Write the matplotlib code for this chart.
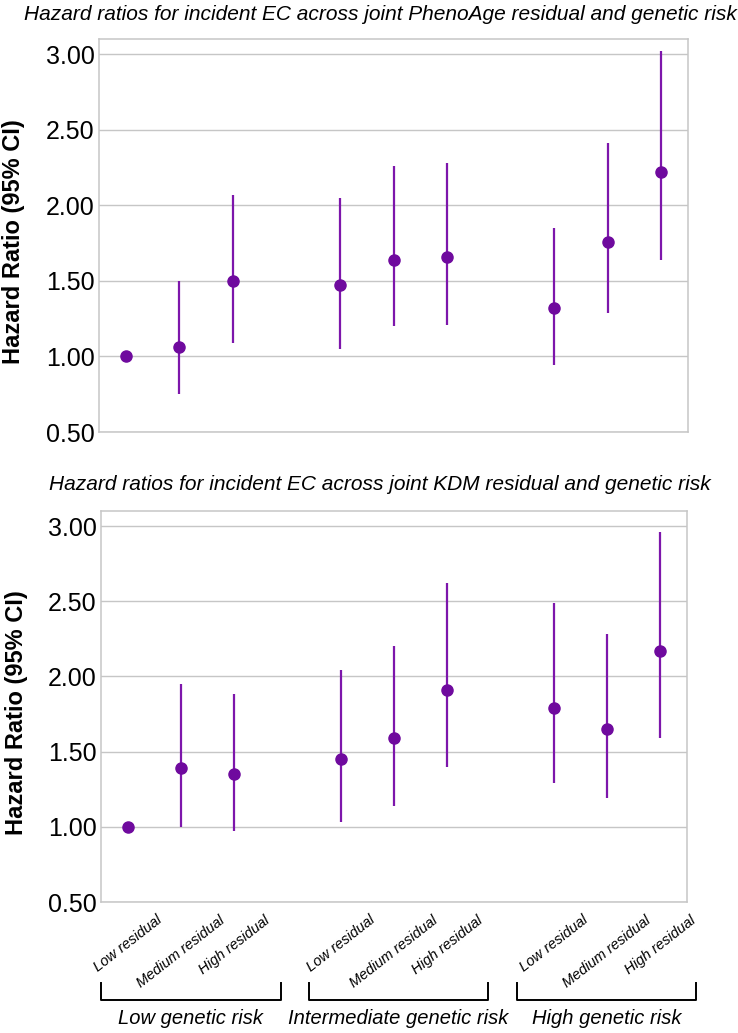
import matplotlib
matplotlib.use("Agg")
import matplotlib.pyplot as plt
import matplotlib.transforms as mtransforms

plt.rcParams['font.family'] = ['Liberation Sans', 'DejaVu Sans']

# ---- data ----
residual_labels = ["Low residual", "Medium residual", "High residual"]
genetic_groups = ["Low genetic risk", "Intermediate genetic risk", "High genetic risk"]
positions = [0, 1, 2, 4, 5, 6, 8, 9, 10]

pheno_hr = [1.00, 1.06, 1.50, 1.47, 1.64, 1.66, 1.32, 1.76, 2.22]
pheno_lo = [1.00, 0.75, 1.09, 1.05, 1.20, 1.21, 0.94, 1.29, 1.64]
pheno_hi = [1.00, 1.50, 2.07, 2.05, 2.26, 2.28, 1.85, 2.41, 3.02]

kdm_hr = [1.00, 1.39, 1.35, 1.45, 1.59, 1.91, 1.79, 1.65, 2.17]
kdm_lo = [1.00, 1.00, 0.97, 1.03, 1.14, 1.40, 1.29, 1.19, 1.59]
kdm_hi = [1.00, 1.95, 1.88, 2.04, 2.20, 2.62, 2.49, 2.28, 2.96]

titles = ["Hazard ratios for incident EC across joint PhenoAge residual and genetic risk",
          "Hazard ratios for incident EC across joint KDM residual and genetic risk"]
yticks = [0.50, 1.00, 1.50, 2.00, 2.50, 3.00]
ytick_labels = ["0.50", "1.00", "1.50", "2.00", "2.50", "3.00"]

W, H = 738, 1033
fig = plt.figure(figsize=(W / 100, H / 100), dpi=100)

PURPLE = "#6f0a9e"
LINE = "#7d16ab"
GRID = "#c6c6c6"

axes_px = [(99, 39, 688, 432), (101, 511, 687, 902)]
title_y = [14, 484]
datasets = [(pheno_hr, pheno_lo, pheno_hi), (kdm_hr, kdm_lo, kdm_hi)]

for i, ((x0, y0, x1, y1), (hr, lo, hi)) in enumerate(zip(axes_px, datasets)):
    ax = fig.add_axes([x0 / W, 1 - y1 / H, (x1 - x0) / W, (y1 - y0) / H])
    ax.set_xlim(-0.5, 10.5)
    ax.set_ylim(0.5, 3.1)
    ax.vlines(positions, lo, hi, color=LINE, linewidth=1.6, zorder=3)
    ax.plot(positions, hr, 'o', color=PURPLE, markersize=8, zorder=4)
    ax.set_yticks(yticks)
    ax.set_yticklabels(ytick_labels, fontsize=18)
    ax.tick_params(axis='y', length=0, pad=3)
    ax.yaxis.grid(True, color=GRID, linewidth=1)
    ax.set_axisbelow(True)
    for sp in ax.spines.values():
        sp.set_color(GRID)
        sp.set_linewidth(1.1)
    ax.set_xticks(positions)
    ax.set_xticks([1, 5, 9], minor=True)
    ax.tick_params(axis='x', which='major', length=0, pad=8)
    ax.tick_params(axis='x', which='minor', direction='in', length=9, color=GRID, width=1)
    if i == 1:
        ax.set_xticklabels(residual_labels * 3, rotation=38, fontsize=10.5, style='italic')
    else:
        ax.set_xticklabels([])
    ax.set_ylabel("Hazard Ratio (95% CI)", fontsize=17, fontweight='bold')
    ax.yaxis.set_label_coords(-0.125, 0.485)
    fig.text(380 / W, 1 - title_y[i] / H, titles[i], fontsize=15, style='italic',
             ha='center', va='center')
    if i == 1:
        trans = mtransforms.blended_transform_factory(ax.transData, fig.transFigure)
        for g, name in enumerate(genetic_groups):
            start = positions[g * 3]
            left = start - 0.5 - 0.1 * g
            right = left + 3.37
            ytop = 1 - 983 / H
            ybot = 1 - 1000 / H
            fig.add_artist(plt.Line2D([left, left, right, right], [ytop, ybot, ybot, ytop],
                                      transform=trans, color='black', linewidth=1.4))
            fig.text((left + right) / 2, 1 - 1018 / H, name, transform=trans,
                     fontsize=14.5, style='italic', ha='center', va='center')

fig.savefig("out.png", dpi=100)
